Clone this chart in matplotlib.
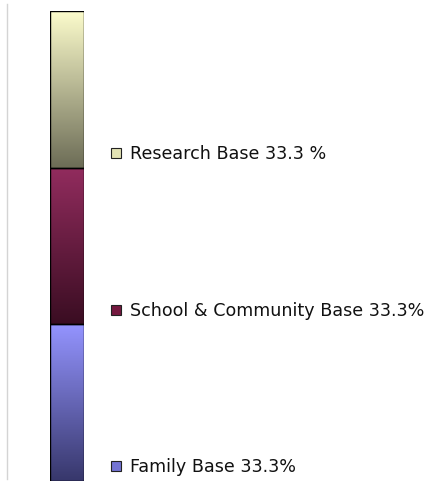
import numpy as np
import matplotlib
matplotlib.use("Agg")
import matplotlib.pyplot as plt
from matplotlib.colors import LinearSegmentedColormap
from matplotlib.lines import Line2D

# Stacked bar data (bottom to top)
categories = ["Family Base", "School & Community Base", "Research Base"]
shares = [33.3, 33.3, 33.3]
labels = ["Family Base 33.3%", "School & Community Base 33.3%", "Research Base 33.3 %"]

# gradient colours: (top colour, bottom colour) for each segment
grad_colors = [("#9494ff", "#37376b"), ("#922c5e", "#3a0d22"), ("#fcfccc", "#6c6c56")]
marker_colors = ["#7474d4", "#74183f", "#e2e2b4"]

fig = plt.figure(figsize=(4.27, 4.85), dpi=100)
ax = fig.add_axes([50 / 427, 3 / 485, 34 / 427, 470 / 485])

bottoms = np.concatenate([[0], np.cumsum(shares)[:-1]])
bars = ax.bar([0] * len(shares), shares, bottom=bottoms, width=1.0,
              edgecolor="black", linewidth=1.0, zorder=2)

ax.axis("off")

grad = np.linspace(1, 0, 256).reshape(-1, 1)
for bar, (top_c, bot_c) in zip(bars, grad_colors):
    cmap = LinearSegmentedColormap.from_list("g", [bot_c, top_c])
    x0, y0 = bar.get_x(), bar.get_y()
    im = ax.imshow(grad, cmap=cmap, aspect="auto", vmin=0, vmax=1,
                   extent=[x0, x0 + bar.get_width(), y0, y0 + bar.get_height()],
                   zorder=1)
    im.set_clip_path(bar)
    bar.set_facecolor("none")

ax.set_xlim(-0.5, 0.5)
ax.set_ylim(0, sum(shares))

# legend-like labels next to the bottom of each segment
for b, lab, mc in zip(bottoms, labels, marker_colors):
    y = b + 3.1
    ax.plot([1.44], [y], marker="s", markersize=6.5, color=mc,
            markeredgecolor="#222222", markeredgewidth=0.8,
            clip_on=False, zorder=3)
    ax.text(1.84, y, lab, fontsize=12.6, va="center", ha="left",
            color="#111111", clip_on=False)

# faint vertical line at the left edge
fig.add_artist(Line2D([7 / 427, 7 / 427], [5 / 485, 480 / 485],
                      color="#d4d4d4", linewidth=1.0))

fig.savefig("out.png", dpi=100)
